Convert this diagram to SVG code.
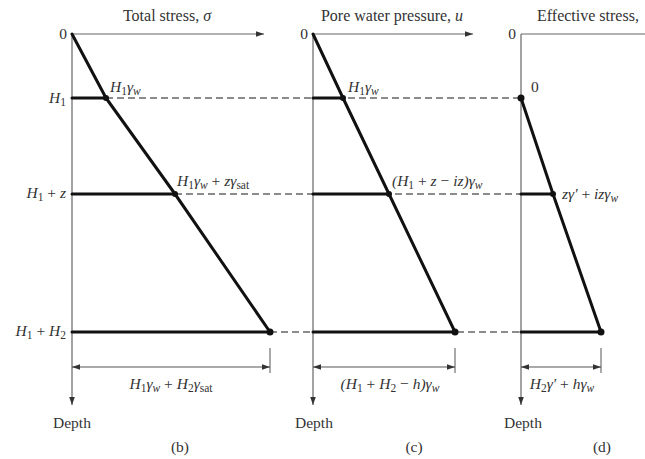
<svg xmlns="http://www.w3.org/2000/svg" width="645" height="459" viewBox="0 0 645 459">
<defs>
<marker id="ah" viewBox="0 0 10 10" refX="10" refY="5" markerWidth="8" markerHeight="8" markerUnits="userSpaceOnUse" orient="auto-start-reverse">
<path d="M0,1.5 L10,5 L0,8.5 Z" fill="#333"/>
</marker>
<style>
text{font-family:"Liberation Serif","Times New Roman",serif;font-size:15.5px;fill:#333}
.it{font-style:italic}
.sub{font-size:11.5px}
.axis{stroke:#666;stroke-width:1.2;fill:none}
.heavy{stroke:#111;stroke-width:3;fill:none;stroke-linecap:round;stroke-linejoin:round}
.dash{stroke:#666;stroke-width:1.3;stroke-dasharray:7,4;fill:none}
.dim{stroke:#555;stroke-width:1;fill:none}
.dot{fill:#111}
</style>
</defs>
<rect width="645" height="459" fill="#fff"/>

<g id="connectors">
<line class="dash" x1="106" y1="98" x2="521" y2="98"/>
<line class="dash" x1="175" y1="194" x2="521" y2="194"/>
<line class="dash" x1="270" y1="332" x2="521" y2="332"/>
</g>

<g id="panel-b">
<line class="axis" x1="72" y1="34" x2="72" y2="405" marker-end="url(#ah)"/>
<line class="axis" x1="72" y1="34" x2="264" y2="34" marker-end="url(#ah)"/>
<text x="167" y="21" text-anchor="middle" style="font-size:16px">Total stress, <tspan class="it">σ</tspan></text>
<text x="67" y="39" text-anchor="end">0</text>
<text x="66" y="103" text-anchor="end" class="it">H<tspan class="sub" dy="3" font-style="normal">1</tspan></text>
<text x="66" y="198" text-anchor="end"><tspan class="it">H</tspan><tspan class="sub" dy="3">1</tspan><tspan dy="-3"> + </tspan><tspan class="it">z</tspan></text>
<text x="66" y="336" text-anchor="end"><tspan class="it">H</tspan><tspan class="sub" dy="3">1</tspan><tspan dy="-3"> + </tspan><tspan class="it">H</tspan><tspan class="sub" dy="3">2</tspan></text>
<line class="heavy" x1="72" y1="98" x2="106" y2="98"/>
<line class="heavy" x1="72" y1="194" x2="175" y2="194"/>
<line class="heavy" x1="72" y1="332" x2="270" y2="332"/>
<polyline class="heavy" points="72,34 106,98 175,194 270,332"/>
<circle class="dot" cx="106" cy="98" r="3"/>
<circle class="dot" cx="175" cy="194" r="3"/>
<circle class="dot" cx="270" cy="332" r="3.5"/>
<text x="110" y="92"><tspan class="it">H</tspan><tspan class="sub" dy="3">1</tspan><tspan class="it" dy="-3">γ</tspan><tspan class="sub it" dy="3">w</tspan></text>
<text x="177" y="186"><tspan class="it">H</tspan><tspan class="sub" dy="3">1</tspan><tspan class="it" dy="-3">γ</tspan><tspan class="sub it" dy="3">w</tspan><tspan dy="-3"> + </tspan><tspan class="it">zγ</tspan><tspan class="sub" dy="3">sat</tspan></text>
<line class="dim" x1="270" y1="348" x2="270" y2="373"/>
<line class="dim" x1="72" y1="367" x2="270" y2="367" marker-start="url(#ah)" marker-end="url(#ah)"/>
<text x="171" y="389" text-anchor="middle"><tspan class="it">H</tspan><tspan class="sub" dy="3">1</tspan><tspan class="it" dy="-3">γ</tspan><tspan class="sub it" dy="3">w</tspan><tspan dy="-3"> + </tspan><tspan class="it">H</tspan><tspan class="sub" dy="3">2</tspan><tspan class="it" dy="-3">γ</tspan><tspan class="sub" dy="3">sat</tspan></text>
<text x="72" y="428" text-anchor="middle">Depth</text>
<text x="180" y="452" text-anchor="middle">(b)</text>
</g>

<g id="panel-c">
<line class="axis" x1="313" y1="34" x2="313" y2="405" marker-end="url(#ah)"/>
<line class="axis" x1="313" y1="34" x2="473" y2="34" marker-end="url(#ah)"/>
<text x="392" y="21" text-anchor="middle" style="font-size:16px">Pore water pressure, <tspan class="it">u</tspan></text>
<text x="308" y="39" text-anchor="end">0</text>
<line class="heavy" x1="313" y1="98" x2="343" y2="98"/>
<line class="heavy" x1="313" y1="194" x2="389" y2="194"/>
<line class="heavy" x1="313" y1="332" x2="455" y2="332"/>
<polyline class="heavy" points="313,34 343,98 389,194 455,332"/>
<circle class="dot" cx="343" cy="98" r="3"/>
<circle class="dot" cx="389" cy="194" r="3"/>
<circle class="dot" cx="455" cy="332" r="3.5"/>
<text x="348" y="92"><tspan class="it">H</tspan><tspan class="sub" dy="3">1</tspan><tspan class="it" dy="-3">γ</tspan><tspan class="sub it" dy="3">w</tspan></text>
<text x="392" y="186" class="it">(H<tspan class="sub" dy="3" font-style="normal">1</tspan><tspan dy="-3" font-style="normal"> + </tspan>z<tspan font-style="normal"> − </tspan>iz)γ<tspan class="sub" dy="3">w</tspan></text>
<line class="dim" x1="455" y1="348" x2="455" y2="373"/>
<line class="dim" x1="313" y1="367" x2="455" y2="367" marker-start="url(#ah)" marker-end="url(#ah)"/>
<text x="390" y="389" text-anchor="middle" class="it">(H<tspan class="sub" dy="3" font-style="normal">1</tspan><tspan dy="-3" font-style="normal"> + </tspan>H<tspan class="sub" dy="3" font-style="normal">2</tspan><tspan dy="-3" font-style="normal"> − </tspan>h)γ<tspan class="sub" dy="3">w</tspan></text>
<text x="314" y="428" text-anchor="middle">Depth</text>
<text x="414" y="452" text-anchor="middle">(c)</text>
</g>

<g id="panel-d">
<line class="axis" x1="521" y1="34" x2="521" y2="405" marker-end="url(#ah)"/>
<line class="axis" x1="521" y1="34" x2="645" y2="34"/>
<text x="537" y="21" style="font-size:16px">Effective stress,</text>
<text x="516" y="39" text-anchor="end">0</text>
<text x="531" y="92">0</text>
<line class="heavy" x1="521" y1="194" x2="553" y2="194"/>
<line class="heavy" x1="521" y1="332" x2="601" y2="332"/>
<polyline class="heavy" points="521,98 553,194 601,332"/>
<circle class="dot" cx="521" cy="98" r="3.5"/>
<circle class="dot" cx="553" cy="194" r="3"/>
<circle class="dot" cx="601" cy="332" r="3.5"/>
<text x="562" y="199" class="it">zγ′<tspan font-style="normal"> + </tspan>izγ<tspan class="sub" dy="3">w</tspan></text>
<line class="dim" x1="601" y1="348" x2="601" y2="373"/>
<line class="dim" x1="521" y1="367" x2="601" y2="367" marker-start="url(#ah)" marker-end="url(#ah)"/>
<text x="562" y="389" text-anchor="middle" class="it">H<tspan class="sub" dy="3" font-style="normal">2</tspan><tspan dy="-3">γ′</tspan><tspan font-style="normal"> + </tspan>hγ<tspan class="sub" dy="3">w</tspan></text>
<text x="523" y="428" text-anchor="middle">Depth</text>
<text x="602" y="452" text-anchor="middle">(d)</text>
</g>
</svg>
